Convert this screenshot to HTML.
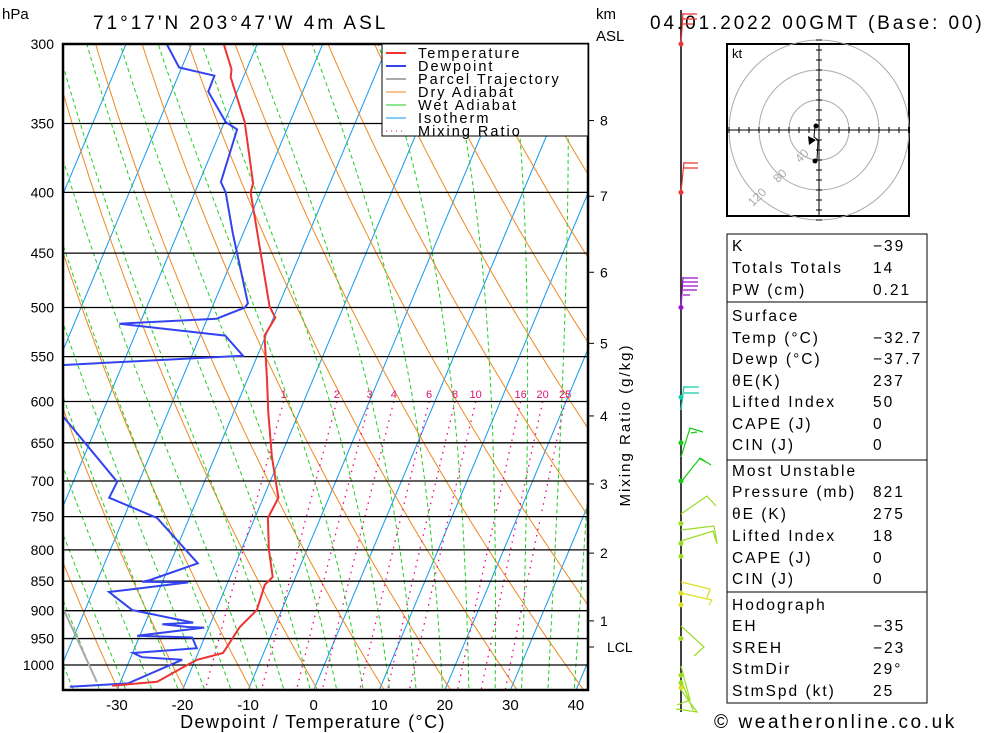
<!DOCTYPE html>
<html><head><meta charset="utf-8"><style>
html,body{margin:0;padding:0;background:#fff;width:1000px;height:733px;overflow:hidden}
svg text{font-family:"Liberation Sans",sans-serif;fill:#000}
</style></head><body>
<svg id="chart" width="1000" height="733" viewBox="0 0 1000 733" xmlns="http://www.w3.org/2000/svg">
<defs><clipPath id="plotclip"><rect x="63" y="44" width="525" height="646"/></clipPath></defs>
<g id="bg" clip-path="url(#plotclip)"></g>
<g id="grid"></g>
<g id="series" clip-path="url(#plotclip)"></g>
<g id="axes"></g>
<text x="2" y="19" font-size="15">hPa</text>
<text x="93" y="29" font-size="19" letter-spacing="3">71°17'N 203°47'W 4m ASL</text>
<text x="596" y="19" font-size="15">km</text>
<text x="596" y="41" font-size="15">ASL</text>
<text x="650" y="29" font-size="19" letter-spacing="2.9">04.01.2022 00GMT (Base: 00)</text>
<text x="313" y="728" font-size="18" text-anchor="middle" letter-spacing="1.4">Dewpoint / Temperature (°C)</text>
<text x="630" y="425" font-size="15" text-anchor="middle" transform="rotate(-90 630 425)" letter-spacing="2">Mixing Ratio (g/kg)</text>
<text x="714" y="728" font-size="19" letter-spacing="2.6">© weatheronline.co.uk</text>
<g>
<rect x="382" y="44" width="206" height="92" fill="#fff" stroke="#000" stroke-width="1"/>
<g font-size="14.5" letter-spacing="2">
<line x1="386" y1="53" x2="406" y2="53" stroke="#ee3333" stroke-width="2"/><text x="418" y="58">Temperature</text>
<line x1="386" y1="66" x2="406" y2="66" stroke="#3344ee" stroke-width="2"/><text x="418" y="71">Dewpoint</text>
<line x1="386" y1="79" x2="406" y2="79" stroke="#aaaaaa" stroke-width="2"/><text x="418" y="84">Parcel Trajectory</text>
<line x1="386" y1="92" x2="406" y2="92" stroke="#ee8822" stroke-width="1"/><text x="418" y="97">Dry Adiabat</text>
<line x1="386" y1="105" x2="406" y2="105" stroke="#22cc22" stroke-width="1"/><text x="418" y="110">Wet Adiabat</text>
<line x1="386" y1="118" x2="406" y2="118" stroke="#1199ee" stroke-width="1"/><text x="418" y="123">Isotherm</text>
<line x1="386" y1="131" x2="406" y2="131" stroke="#dd1177" stroke-width="1" stroke-dasharray="1,4"/><text x="418" y="136">Mixing Ratio</text>
</g></g>
<g id="wind" fill="none" stroke-width="1.2">
<line x1="681" y1="10" x2="681" y2="712" stroke="#000" stroke-width="1.5"/>
<g stroke="#ee3333"><path d="M681 44L683 13M683 14H697M683 19H697M683 24H693M681 192L684 162M684 163H698M684 168H698"/></g>
<g stroke="#9911cc"><path d="M681 308L683 277M683 278H698M683 282H698M683 286H698M683 290H697M683 295H690"/></g>
<g stroke="#11ccaa"><path d="M681 410L684 386M684 387H699M684 393H699"/></g>
<g stroke="#11cc11"><path d="M681 457L690 428L703 432M691 433L697 432M681 482L700 458L711 465M700 459L706 462"/></g>
<g stroke="#99dd22"><path d="M681 514L707 496L716 506M681 530L714 526L717 543M681 541L713 531L717 544"/></g>
<g stroke="#dddd22"><path d="M681 582L710 589L707 598M681 593L712 600L709 605"/></g>
<g stroke="#99dd22"><path d="M681 626L704 647L694 656M681 666L690 700L677 705M681 680L693 710M681 690L697 712L676 709"/></g>
<g id="winddots"></g>
</g>
<g>
<rect x="727" y="44" width="182" height="172" fill="#fff" stroke="#000" stroke-width="2"/>
<g fill="none" stroke="#aaa" stroke-width="1"><circle cx="819" cy="130" r="30"/><circle cx="819" cy="130" r="60"/><circle cx="819" cy="130" r="90"/></g>
<line x1="728" y1="130" x2="908" y2="130" stroke="#000"/><line x1="819" y1="45" x2="819" y2="215" stroke="#000"/>
<g id="hticks" stroke="#000"></g>
<text x="732" y="58" font-size="13">kt</text>
<g font-size="12"><text x="792" y="160" transform="rotate(-45 800 152)" style="fill:#aaa">40</text><text x="770" y="180" transform="rotate(-45 778 172)" style="fill:#aaa">80</text><text x="745" y="202" transform="rotate(-45 755 195)" style="fill:#aaa">120</text></g>
<path d="M815 125L814 137L818 140L817 160" stroke="#000" fill="none"/>
<circle cx="816" cy="126" r="2.5"/><circle cx="815" cy="161" r="2.5"/><path d="M808 136L816 140L809 145Z"/>
</g>
<g font-size="15.5" letter-spacing="2">
<rect x="727" y="234" width="200" height="68" fill="none" stroke="#000"/>
<rect x="727" y="302" width="200" height="158" fill="none" stroke="#000"/>
<rect x="727" y="460" width="200" height="132" fill="none" stroke="#000"/>
<rect x="727" y="592" width="200" height="111" fill="none" stroke="#000"/>
<g id="rows"></g>
</g>
</svg>
<script>
var tempP=[300,315,320,349,393,400,499,510,528,575,613,668,723,752,800,843,856,899,929,977,990,1000,1033,1041];
var tempT=[-55.1,-52.3,-51.9,-46.9,-41.7,-41.5,-31.3,-29.7,-30.2,-27.0,-24.7,-21.3,-17.7,-18.0,-15.8,-13.5,-14.2,-13.8,-15.3,-16.2,-19.7,-20.9,-24.4,-31.0];
var dewP=[300,314,319,329,349,354,392,400,433,496,500,511,516,517,528,549,559,586,616,701,723,752,821,848,851,852,868,899,921,924,929,930,945,948,968,977,985,990,1036,1043];
var dewT=[-63.8,-60.4,-54.5,-54.4,-49.8,-47.6,-46.7,-45.3,-41.6,-34.8,-35.0,-38.6,-53.1,-51.7,-36.2,-32.2,-58.9,-62.5,-56.0,-43.3,-43.5,-34.9,-25.8,-32.0,-33.1,-26.0,-37.5,-32.8,-22.7,-27.3,-23.2,-20.7,-30.4,-21.9,-20.5,-29.9,-28.3,-22.0,-28.7,-37.4];
var parcelP=[894,1033];
var parcelT=[-43.6,-33.6];
var pressureTicks=[300,350,400,450,500,550,600,650,700,750,800,850,900,950,1000];
var tempTicks=[-30,-20,-10,0,10,20,30,40];
var kmLabels=["1","2","3","4","5","6","7","8"];
var kmP=[918,805,704,617,536,467,403,348];
var mixRatios=[1,2,3,4,6,8,10,16,20,25];
var windDotP=[300,400,500,595,650,700,760,790,810,870,890,950,1020,1035,1045];
var windDotColors=["#ee3333","#ee3333","#9911cc","#11ccaa","#11cc11","#11cc11","#99dd22","#99dd22","#99dd22","#dddd22","#dddd22","#99dd22","#99dd22","#99dd22","#dddd22"];
var tableLabels=["K","Totals Totals","PW (cm)","    Surface","Temp (°C)","Dewp (°C)","θE(K)","Lifted Index","CAPE (J)","CIN (J)"," Most Unstable","Pressure (mb)","θE (K)","Lifted Index","CAPE (J)","CIN (J)","   Hodograph","EH","SREH","StmDir","StmSpd (kt)"];
var tableValues=["−39","14","0.21","","−32.7","−37.7","237","50","0","0","","821","275","18","0","0","","−35","−23","29°","25"];
var tableY=[251,273,295,321,343,364,386,407,429,450,476,497,519,541,563,584,610,631,653,674,696];
function yP(p){return 44+515.8*Math.log(p/300);}
function xT(t,p){return 313.7+6.557*t+0.42*(690-yP(p));}
var NS="http://www.w3.org/2000/svg";
function mk(tag,attrs,parent){var e=document.createElementNS(NS,tag);for(var k in attrs)e.setAttribute(k,attrs[k]);parent.appendChild(e);return e;}
function pathFrom(ps,ts){var d="";for(var i=0;i<ps.length;i++){d+=(i?"L":"M")+xT(ts[i],ps[i]).toFixed(1)+" "+yP(ps[i]).toFixed(1);}return d;}
var bg=document.getElementById('bg');
var pl=[];for(var p=250;p<=1060;p+=10)pl.push(p);
for(var t=-120;t<=50;t+=10){var el=mk('path',{d:pathFrom([250,1060],[t,t]),stroke:'#1199ee','stroke-width':1,fill:'none'},bg);

}
for(var th=200;th<=480;th+=10){var ts=pl.map(function(p){return th*Math.pow(p/1000,0.2857)-273.15;});
var el=mk('path',{d:pathFrom(pl,ts),stroke:'#ee8822','stroke-width':1,fill:'none'},bg);

}
function es(T){return 6.112*Math.exp(17.67*T/(T+243.5));}
for(var t0=-44;t0<=44;t0+=4){var ps=[],ts=[];var T=t0+273.15;
for(var p=1060;p>=250;p-=2){ps.push(p);ts.push(T-273.15);var rs=0.622*es(T-273.15)/(p-es(T-273.15));
var dTdp=(287*T+2.5e6*rs)/(p*(1004+2.5e6*2.5e6*rs*0.622/(287*T*T)));T-=dTdp*2;}
var el=mk('path',{d:pathFrom(ps,ts),stroke:'#22cc22','stroke-width':1,fill:'none','stroke-dasharray':'4,3'},bg);

}
var axes=document.getElementById('axes');
mixRatios.forEach(function(w){var ps=[],ts=[];for(var p=600;p<=1060;p+=10){var e=w*p/(622+w);var l=Math.log(e/6.112);ps.push(p);ts.push(243.5*l/(17.67-l));}
var el=mk('path',{d:pathFrom(ps,ts),stroke:'#ee0088','stroke-width':1.3,fill:'none','stroke-dasharray':'1.5,5'},bg);


var tx=mk('text',{x:xT(ts[0],600),y:398,'font-size':11,'text-anchor':'middle',style:'fill:#dd1177'},axes);tx.textContent=w;

});
var grid=document.getElementById('grid');
pressureTicks.forEach(function(p){var y=yP(p);var l=mk('line',{x1:63,x2:588,y1:y,y2:y,stroke:'#000','stroke-width':1.3},grid);


var tx=mk('text',{x:54,y:y+5,'font-size':14,'text-anchor':'end'},axes);tx.textContent=p;

});
mk('rect',{x:63,y:44,width:525,height:646,fill:'none',stroke:'#000','stroke-width':2.5},axes);
tempTicks.forEach(function(t){var tx=mk('text',{x:xT(t,1049.9),y:710,'font-size':15,'text-anchor':'middle'},axes);tx.textContent=t;

});
kmLabels.forEach(function(k,i){var y=yP(kmP[i]);mk('line',{x1:588,x2:594,y1:y,y2:y,stroke:'#000'},axes);
var tx=mk('text',{x:600,y:y+5,'font-size':14},axes);tx.textContent=k;

});
mk('line',{x1:588,x2:594,y1:647,y2:647,stroke:'#000'},axes);
var lc=mk('text',{x:607,y:652,'font-size':14},axes);lc.textContent='LCL';


var ser=document.getElementById('series');
var pa=mk('path',{d:pathFrom(parcelP,parcelT),stroke:'#aaa','stroke-width':2,fill:'none'},ser);


var dw=mk('path',{d:pathFrom(dewP,dewT),stroke:'#3344ee','stroke-width':2,fill:'none'},ser);


var tl=mk('path',{d:pathFrom(tempP,tempT),stroke:'#ee3333','stroke-width':2,fill:'none'},ser);


var wd=document.getElementById('winddots');
windDotP.forEach(function(p,i){var c=mk('circle',{cx:681,cy:yP(p),r:2.5,fill:windDotColors[i],stroke:'none'},wd);

});
var ht=document.getElementById('hticks');
for(var d=-90;d<=90;d+=10){if(!d)continue;mk('line',{x1:819+d,x2:819+d,y1:127,y2:133},ht);mk('line',{x1:816,x2:822,y1:130+d,y2:130+d},ht);}
var rows=document.getElementById('rows');
tableLabels.forEach(function(s,i){var a=mk('text',{x:732,y:tableY[i],'xml:space':'preserve'},rows);a.textContent=s;


if(tableValues[i]){var b=mk('text',{x:873,y:tableY[i]},rows);b.textContent=tableValues[i];

}});
</script>
</body></html>
